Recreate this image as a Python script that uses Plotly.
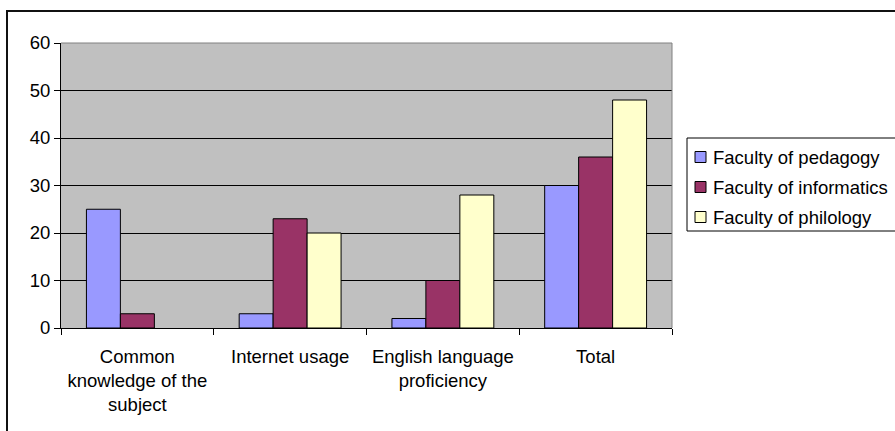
import plotly.graph_objects as go

# Survey results by faculty
categories = [
    "Common<br>knowledge of the<br>subject",
    "Internet usage",
    "English language<br>proficiency",
    "Total",
]
series_names = ["Faculty of pedagogy", "Faculty of informatics", "Faculty of philology"]
pedagogy = [25, 3, 2, 30]
informatics = [3, 23, 10, 36]
philology = [None, 20, 28, 48]
y_ticks = [0, 10, 20, 30, 40, 50, 60]

colors = ["#9999FF", "#993366", "#FFFFCC"]
FONT = "Liberation Sans, Arial, sans-serif"
FS = 18.5

W, H = 895, 431
L, R, T, B = 61, 223, 43, 103  # plot area margins in pixels
pw, ph = W - L - R, H - T - B


def px_x(x):
    return (x - L) / pw


def px_y(y):
    return (H - B - y) / ph


fig = go.Figure()
for name, vals, col in zip(series_names, [pedagogy, informatics, philology], colors):
    fig.add_trace(go.Bar(
        x=categories, y=vals, name=name,
        marker=dict(color=col, line=dict(color="black", width=1)),
        showlegend=False,
    ))

shapes = []
# gray frame on the top and right edges of the plot area
shapes.append(dict(type="line", xref="paper", yref="paper", x0=0, x1=1, y0=1, y1=1,
                   line=dict(color="#808080", width=1), layer="above"))
shapes.append(dict(type="line", xref="paper", yref="paper", x0=1, x1=1, y0=0, y1=1,
                   line=dict(color="#808080", width=1), layer="above"))
# chart border
shapes.append(dict(type="rect", xref="paper", yref="paper",
                   x0=px_x(7), x1=px_x(905), y0=px_y(11), y1=px_y(445),
                   line=dict(color="#111111", width=2), fillcolor="rgba(0,0,0,0)"))
# legend box
shapes.append(dict(type="rect", xref="paper", yref="paper",
                   x0=px_x(687), x1=px_x(905), y0=px_y(138), y1=px_y(231),
                   line=dict(color="black", width=1), fillcolor="white"))

annotations = []
row_y = [157, 187, 217]
for name, col, yc in zip(series_names, colors, row_y):
    shapes.append(dict(type="rect", xref="paper", yref="paper",
                       x0=px_x(695), x1=px_x(706), y0=px_y(yc - 5.5), y1=px_y(yc + 5.5),
                       line=dict(color="black", width=1), fillcolor=col))
    annotations.append(dict(text=name, xref="paper", yref="paper",
                            x=px_x(711), y=px_y(yc), xanchor="left", yanchor="middle",
                            showarrow=False, font=dict(family=FONT, size=FS, color="black")))

fig.update_layout(
    width=W, height=H,
    margin=dict(l=L, r=R, t=T, b=B),
    paper_bgcolor="white",
    plot_bgcolor="#C0C0C0",
    barmode="group",
    bargap=0.333,
    bargroupgap=0,
    font=dict(family=FONT, size=FS, color="black"),
    shapes=shapes,
    annotations=annotations,
    showlegend=False,
    xaxis=dict(
        type="category",
        tickson="boundaries",
        ticks="outside", ticklen=6, tickcolor="black", tickwidth=1,
        ticklabelstandoff=12,
        showline=True, linecolor="black", linewidth=1,
        showgrid=False,
        tickfont=dict(family=FONT, size=FS, color="black"),
        fixedrange=True,
    ),
    yaxis=dict(
        range=[0, 60],
        tickvals=y_ticks,
        ticks="outside", ticklen=6, tickcolor="black", tickwidth=1,
        showline=True, linecolor="black", linewidth=1,
        showgrid=True, gridcolor="black", gridwidth=1,
        zeroline=False,
        tickfont=dict(family=FONT, size=FS, color="black"),
        fixedrange=True,
    ),
)

fig.write_html("out.html", config={"displayModeBar": False})
